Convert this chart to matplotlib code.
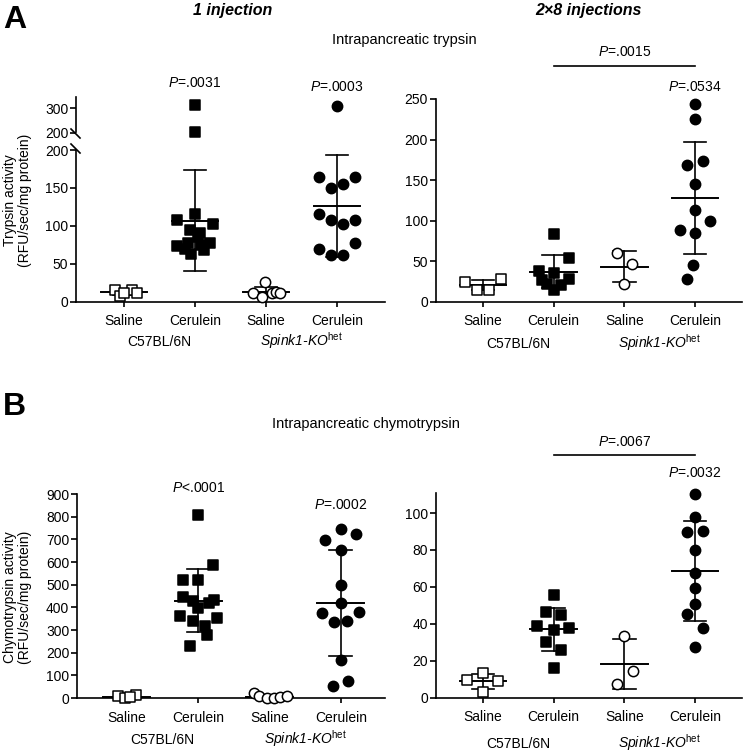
import numpy as np
import matplotlib
matplotlib.use("Agg")
import matplotlib.pyplot as plt
from matplotlib.lines import Line2D

plt.rcParams['font.family'] = ['Liberation Sans', 'DejaVu Sans']
plt.rcParams['mathtext.fontset'] = 'custom'
plt.rcParams['mathtext.rm'] = 'Liberation Sans'
plt.rcParams['mathtext.it'] = 'Liberation Sans:italic'
plt.rcParams['mathtext.bf'] = 'Liberation Sans:bold'

groups = ["Saline", "Cerulein", "Saline", "Cerulein"]
strains = ["C57BL/6N", r"Spink1-KO$^{\mathrm{het}}$"]
strain_style = ['normal', 'italic']

# A, trypsin, 1 injection
tryp1_vals = [
    [15, 16, 8, 11, 12],
    [313, 205, 108, 115, 102, 95, 90, 78, 73, 70, 75, 77, 63, 68, 85],
    [12, 26, 6, 12, 13, 12],
    [307, 164, 150, 155, 164, 116, 108, 103, 108, 70, 62, 62, 78],
]
tryp1_offs = [
    [-0.13, 0.11, -0.06, 0.18, 0.0],
    [0, 0, -0.26, 0, 0.25, -0.07, 0.07, -0.1, -0.26, -0.14, 0.09, 0.21, -0.05, 0.12, 0.04],
    [-0.18, -0.01, -0.05, 0.08, 0.14, 0.2],
    [0, -0.25, -0.08, 0.08, 0.25, -0.25, -0.08, 0.08, 0.25, -0.25, -0.08, 0.08, 0.25],
]
tryp1_mean = [12.4, 107, 13, 126]
tryp1_sd = [4, 67, 6, 67]

# A, trypsin, 2x8 injections
tryp8_vals = [
    [24.6, 14.3, 14.3, 27.9],
    [84, 54.5, 38, 36, 28, 27, 14, 20, 22],
    [60, 47, 22],
    [244, 225, 168, 173, 145, 113, 89, 85, 100, 45, 28],
]
tryp8_offs = [
    [-0.26, -0.08, 0.08, 0.25],
    [0, 0.21, -0.21, 0, 0.21, -0.16, 0, 0.1, -0.1],
    [-0.1, 0.11, 0],
    [0, 0, -0.12, 0.11, 0, 0, -0.22, 0, 0.21, -0.03, -0.11],
]
tryp8_mean = [21, 37, 43, 128]
tryp8_sd = [6, 20, 19, 69]

# B, chymotrypsin, 1 injection
chymo1_vals = [
    [8, 13, 2, 5],
    [808, 588, 522, 519, 446, 428, 434, 395, 417, 361, 339, 317, 355, 278, 230],
    [20, 8, 2, 1, 4, 10],
    [697, 745, 725, 655, 497, 417, 377, 336, 341, 380, 168, 54, 73],
]
chymo1_offs = [
    [-0.12, 0.13, -0.02, 0.05],
    [0, 0.21, -0.21, 0, -0.22, -0.08, 0.22, 0, 0.15, -0.25, -0.07, 0.09, 0.26, 0.12, -0.11],
    [-0.22, -0.15, -0.03, 0.07, 0.15, 0.24],
    [-0.22, 0, 0.21, 0, 0, 0, -0.27, -0.09, 0.08, 0.25, 0, -0.11, 0.1],
]
chymo1_mean = [5, 429, 6, 420]
chymo1_sd = [5, 139, 7, 235]

# B, chymotrypsin, 2x8 injections
chymo8_vals = [
    [13.3, 9.6, 9, 3.3],
    [55.6, 46.5, 45, 38.7, 36.4, 38, 30, 26, 16],
    [33.6, 14.7, 7.5],
    [110.5, 97.8, 89.6, 90, 80, 67.6, 59.3, 50.5, 45.5, 37.8, 27.3],
]
chymo8_offs = [
    [0, -0.23, 0.21, 0],
    [0, -0.11, 0.11, -0.23, 0, 0.21, -0.11, 0.11, 0],
    [0, 0.12, -0.1],
    [0, 0, -0.11, 0.11, 0, 0, 0, 0, -0.11, 0.11, 0],
]
chymo8_mean = [8.8, 37, 18.4, 68.5]
chymo8_sd = [4, 11.6, 13.5, 27]

markers = ['s', 's', 'o', 'o']
faces = ['white', 'black', 'white', 'black']

W, H = 747, 752
fig = plt.figure(figsize=(W / 100, H / 100), dpi=100)


def px_axes(l, t, r, b):
    return fig.add_axes([l / W, 1 - b / H, (r - l) / W, (b - t) / H])


def style(ax, xlim):
    for s in ['top', 'right']:
        ax.spines[s].set_visible(False)
    for s in ['left', 'bottom']:
        ax.spines[s].set_linewidth(1.2)
    ax.set_xlim(*xlim)
    ax.tick_params(axis='y', length=4, width=1.2, pad=1.5, labelsize=10)
    ax.tick_params(axis='x', length=3.5, width=1.2, pad=5.5, labelsize=10)
    ax.set_xticks(range(4))
    ax.set_xticklabels(groups)


def draw(ax, vals, offs, mean, sd, lo=None, hi=None, bars=True):
    for i in range(4):
        v = np.array(vals[i], dtype=float)
        x = i + np.array(offs[i])
        keep = np.ones(len(v), bool)
        if lo is not None:
            keep &= v > lo
        if hi is not None:
            keep &= v <= hi
        ax.scatter(x[keep], v[keep], marker=markers[i], s=55, facecolor=faces[i],
                   edgecolor='black', linewidth=1.1, zorder=4, clip_on=False)
        if bars:
            ax.plot([i - 0.33, i + 0.33], [mean[i], mean[i]], color='black', lw=1.4, zorder=3)
            ax.plot([i, i], [mean[i] - sd[i], mean[i] + sd[i]], color='black', lw=1.2, zorder=3)
            for y in (mean[i] - sd[i], mean[i] + sd[i]):
                ax.plot([i - 0.16, i + 0.16], [y, y], color='black', lw=1.2, zorder=3)


def strain_labels(ax, off):
    for k, name in enumerate(strains):
        ax.annotate(name, xy=(2 * k + 0.5, 0), xycoords=ax.get_xaxis_transform(),
                    xytext=(0, off), textcoords='offset points', ha='center',
                    va='baseline', fontsize=10, style=strain_style[k],
                    annotation_clip=False)


def ptext(ax, x, y, s):
    ax.text(x, y, s, ha='center', va='center', fontsize=10, clip_on=False)


# ---- A, 1 injection (broken axis)
a1 = px_axes(76, 150, 385, 301.7)
style(a1, (-0.676, 3.676))
a1.set_ylim(0, 200)
a1.set_yticks([0, 50, 100, 150, 200])
draw(a1, tryp1_vals, tryp1_offs, tryp1_mean, tryp1_sd, hi=200)
strain_labels(a1, -32)

a1u = px_axes(76, 97, 385, 133)
a1u.set_xlim(-0.676, 3.676)
a1u.set_ylim(200, 344)
a1u.set_yticks([200, 300])
for s in ['top', 'right', 'bottom']:
    a1u.spines[s].set_visible(False)
a1u.spines['left'].set_linewidth(1.2)
a1u.spines['left'].set_bounds(204, 344)
a1u.set_xticks([])
a1u.tick_params(axis='y', length=4, width=1.2, pad=1.5, labelsize=10)
draw(a1u, tryp1_vals, tryp1_offs, tryp1_mean, tryp1_sd, lo=200, bars=False)
ptext(a1u, 1, 400, r"$\mathit{P}$=.0031")
ptext(a1u, 3, 384, r"$\mathit{P}$=.0003")

for (x0, y0, x1, y1) in [(71, 129, 80, 138), (71, 144, 80, 153)]:
    fig.add_artist(Line2D([x0 / W, x1 / W], [1 - y0 / H, 1 - y1 / H], color='black', lw=1.2))

# ---- A, 2x8 injections
a2 = px_axes(435.7, 99, 742, 301.7)
style(a2, (-0.669, 3.663))
a2.set_ylim(0, 250)
a2.set_yticks([0, 50, 100, 150, 200, 250])
draw(a2, tryp8_vals, tryp8_offs, tryp8_mean, tryp8_sd)
strain_labels(a2, -33)
ptext(a2, 2, 308, r"$\mathit{P}$=.0015")
a2.plot([1, 3], [291, 291], color='black', lw=1.2, clip_on=False)
ptext(a2, 3, 265, r"$\mathit{P}$=.0534")

# ---- B, 1 injection
b1 = px_axes(77, 494, 385, 698)
style(b1, (-0.70, 3.62))
b1.set_ylim(0, 900)
b1.set_yticks(range(0, 901, 100))
draw(b1, chymo1_vals, chymo1_offs, chymo1_mean, chymo1_sd)
strain_labels(b1, -33)
ptext(b1, 1, 926, r"$\mathit{P}$<.0001")
ptext(b1, 3, 851, r"$\mathit{P}$=.0002")

# ---- B, 2x8 injections
b2 = px_axes(435.7, 492.7, 742, 697.7)
style(b2, (-0.669, 3.663))
b2.set_ylim(0, 111)
b2.set_yticks(range(0, 101, 20))
draw(b2, chymo8_vals, chymo8_offs, chymo8_mean, chymo8_sd)
strain_labels(b2, -36)
ptext(b2, 2, 138.4, r"$\mathit{P}$=.0067")
b2.plot([1, 3], [131.4, 131.4], color='black', lw=1.2, clip_on=False)
ptext(b2, 3, 121.6, r"$\mathit{P}$=.0032")

# ---- headers and labels
fig.text(3 / W, 1 - 28.3 / H, "A", fontsize=23, fontweight='bold', va='baseline', ha='left')
fig.text(3 / W, 1 - 415 / H, "B", fontsize=23, fontweight='bold', va='baseline', ha='left')
fig.text(233 / W, 1 - 11 / H, "1 injection", fontsize=11.5, fontweight='bold',
         style='italic', ha='center', va='center')
fig.text(588.7 / W, 1 - 11 / H, "2\u00d78 injections", fontsize=11.5, fontweight='bold',
         style='italic', ha='center', va='center')
fig.text(404.5 / W, 1 - 40 / H, "Intrapancreatic trypsin", fontsize=10.5,
         ha='center', va='center')
fig.text(366 / W, 1 - 424 / H, "Intrapancreatic chymotrypsin", fontsize=10.5,
         ha='center', va='center')
fig.text(17.5 / W, 1 - 200 / H, "Trypsin activity\n(RFU/sec/mg protein)", fontsize=10,
         rotation=90, ha='center', va='center', multialignment='center', linespacing=1.1)
fig.text(17.5 / W, 1 - 597 / H, "Chymotrypsin activity\n(RFU/sec/mg protein)", fontsize=10,
         rotation=90, ha='center', va='center', multialignment='center', linespacing=1.1)

fig.savefig("out.png", dpi=100)
